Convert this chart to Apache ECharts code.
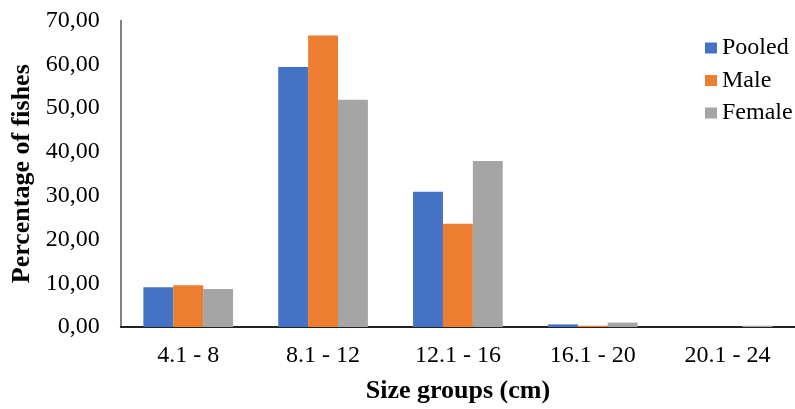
<!DOCTYPE html>
<html><head><meta charset="utf-8">
<script src="https://cdn.jsdelivr.net/npm/echarts@6/dist/echarts.min.js"></script>
<style>html,body{margin:0;padding:0;background:#fff}#c{width:795px;height:409px}</style>
</head><body><div id="c"></div>
<script>
var categories = ['4.1 - 8', '8.1 - 12', '12.1 - 16', '16.1 - 20', '20.1 - 24'];
var pooled = [9.07, 59.4, 30.9, 0.6, 0.0];
var male = [9.52, 66.6, 23.6, 0.3, 0.0];
var female = [8.68, 51.9, 37.9, 1.0, 0.3];
var yTicks = [0, 10, 20, 30, 40, 50, 60, 70];

var font = 'Liberation Serif';
var chart = echarts.init(document.getElementById('c'), null, {renderer: 'canvas'});
chart.setOption({
  animation: false,
  textStyle: {fontFamily: font},
  grid: {left: 120.8, top: 20.5, width: 691.5, height: 308.8, containLabel: false},
  legend: {
    orient: 'vertical', left: 705, top: 36, padding: 0, itemGap: 8.5,
    itemWidth: 12, itemHeight: 11, icon: 'rect',
    textStyle: {fontFamily: font, fontSize: 24, color: '#000', lineHeight: 24},
    data: ['Pooled', 'Male', 'Female']
  },
  xAxis: {
    type: 'category', data: categories,
    name: 'Size groups (cm)', nameLocation: 'middle', nameGap: 51,
    nameTextStyle: {fontFamily: font, fontSize: 26, fontWeight: 'bold', color: '#000'},
    axisLine: {lineStyle: {color: '#222', width: 2}},
    axisTick: {show: false},
    axisLabel: {fontFamily: font, fontSize: 24, color: '#000', margin: 17}
  },
  yAxis: {
    type: 'value', min: yTicks[0], max: yTicks[yTicks.length - 1], interval: 10,
    name: 'Percentage of fishes', nameLocation: 'middle', nameGap: 86,
    nameTextStyle: {fontFamily: font, fontSize: 26, fontWeight: 'bold', color: '#000'},
    axisLine: {show: true, lineStyle: {color: '#595959', width: 1.5}},
    axisTick: {show: false},
    splitLine: {show: false},
    axisLabel: {fontFamily: font, fontSize: 24, color: '#000', margin: 21,
      formatter: function (v) { return v.toFixed(2).replace('.', ','); }}
  },
  series: [
    {name: 'Pooled', type: 'bar', data: pooled, barGap: '0%', barCategoryGap: '33.5%', itemStyle: {color: '#4472C4'}},
    {name: 'Male', type: 'bar', data: male, itemStyle: {color: '#ED7D31'}},
    {name: 'Female', type: 'bar', data: female, itemStyle: {color: '#A5A5A5'}}
  ]
});
</script></body></html>
